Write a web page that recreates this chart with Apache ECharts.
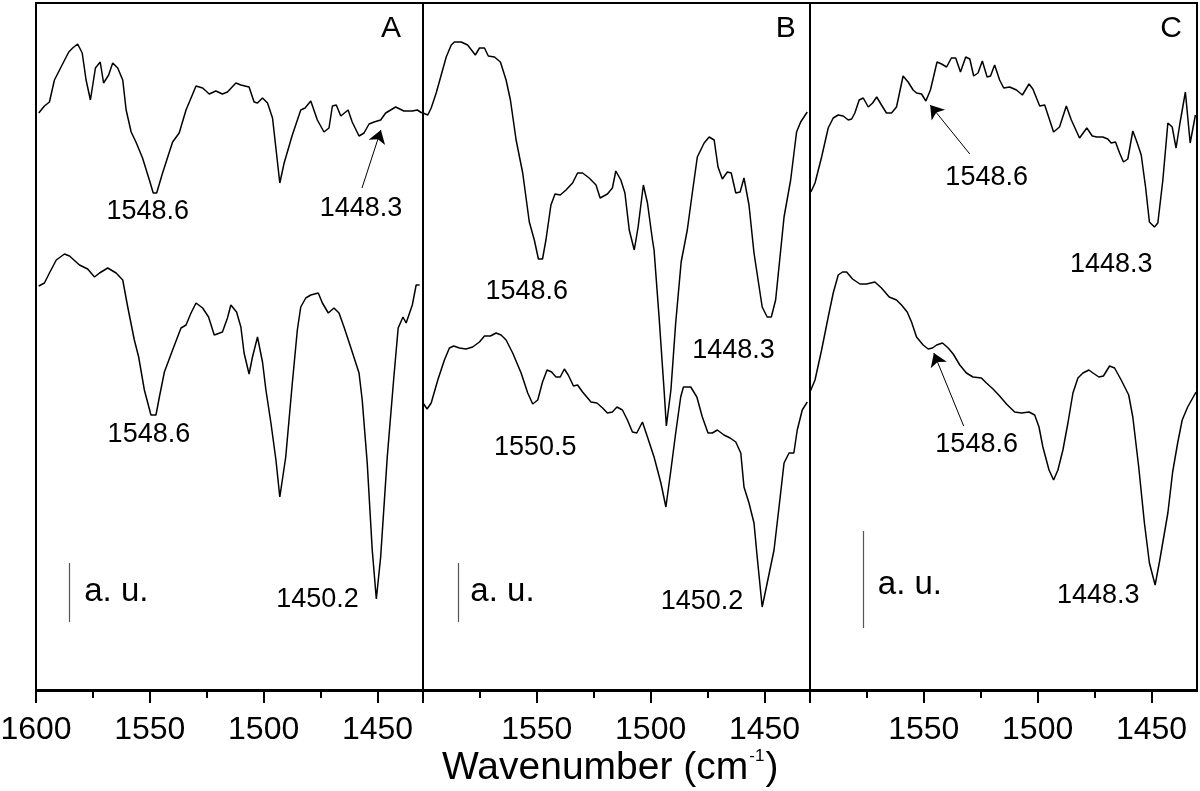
<!DOCTYPE html>
<html>
<head>
<meta charset="utf-8">
<script src="https://cdn.jsdelivr.net/npm/echarts@6/dist/echarts.min.js"></script>
<style>
html,body{margin:0;padding:0;background:#fff;}
#chart{width:1200px;height:791px;}
</style>
</head>
<body>
<div id="chart"></div>
<script>
// ---- data: [wavenumber (cm-1), intensity (a.u., offset)] ----
const specA_top = [[1598.8,577],[1596.3,584],[1594.1,588],[1591.9,610],[1589.0,623],[1585.6,638],[1583.9,642],[1581.7,646],[1579.7,637],[1578.0,610],[1576.1,590],[1573.9,622],[1571.8,628],[1570.3,607],[1568.1,615],[1566.3,627],[1564.1,622],[1561.9,610],[1560.4,580],[1558.2,558],[1556.1,548],[1553.2,532],[1550.2,510],[1548.5,497],[1547.0,497],[1544.4,517],[1540.0,548],[1537.1,557],[1534.1,580],[1529.7,604],[1526.8,602],[1523.9,596],[1521.0,599],[1518.1,596],[1515.9,598],[1512.2,607],[1510.0,605],[1506.4,603],[1504.2,588],[1502.7,587],[1500.5,592],[1498.3,587],[1496.1,572],[1492.9,507],[1491.0,527],[1487.4,555],[1483.7,580],[1481.8,582],[1479.3,589],[1476.4,570],[1473.5,558],[1471.3,562],[1469.8,584],[1468.1,585],[1466.1,574],[1462.9,580],[1461.1,568],[1458.1,554],[1455.9,557],[1453.7,566],[1451.5,568],[1448.6,570],[1446.4,577],[1442.0,583],[1438.4,579],[1434.7,579],[1432.5,580],[1430.5,577]];
const specA_bot = [[1598.8,404],[1596.3,407],[1594.1,417],[1591.1,430],[1587.5,436],[1585.3,434],[1580.9,425],[1577.3,421],[1574.3,413],[1572.1,417],[1568.5,422],[1564.8,417],[1561.9,410],[1559.7,383],[1556.8,350],[1554.9,333],[1552.4,300],[1549.5,275],[1547.3,275],[1545.8,293],[1543.6,318],[1540.0,340],[1536.3,362],[1534.1,365],[1531.9,377],[1529.7,387],[1526.8,382],[1524.2,373],[1521.7,355],[1518.1,358],[1515.9,372],[1514.4,385],[1511.9,378],[1510.0,363],[1508.6,337],[1506.4,316],[1504.9,333],[1502.7,353],[1500.5,328],[1499.0,300],[1496.8,267],[1494.6,230],[1492.9,193],[1490.3,233],[1487.4,307],[1485.2,360],[1483.7,383],[1481.5,392],[1479.3,395],[1476.0,397],[1474.2,387],[1471.6,377],[1469.1,382],[1466.9,377],[1464.7,363],[1461.8,343],[1458.1,317],[1456.7,290],[1454.5,227],[1452.3,140],[1450.5,91],[1448.6,133],[1445.7,233],[1442.8,313],[1440.9,362],[1438.8,373],[1437.4,367],[1434.7,385],[1433.0,405],[1431.5,405]];
const specB_top = [[1600.0,577],[1597.9,575],[1596.4,582],[1594.2,597],[1592.0,615],[1589.8,633],[1587.6,645],[1586.2,648],[1583.2,648],[1580.4,645],[1577.0,635],[1575.2,642],[1573.0,642],[1571.3,634],[1568.6,633],[1566.0,628],[1563.5,610],[1561.6,590],[1559.1,550],[1556.2,517],[1553.3,468],[1551.1,450],[1549.3,431],[1547.5,431],[1546.0,450],[1543.8,485],[1542.0,496],[1539.7,495],[1537.2,500],[1534.3,507],[1532.1,517],[1529.9,517],[1527.0,512],[1524.0,505],[1522.2,492],[1519.0,496],[1516.8,502],[1515.3,519],[1513.1,510],[1511.3,497],[1509.4,460],[1507.2,440],[1505.5,463],[1503.2,505],[1501.4,487],[1499.2,450],[1498.5,440],[1496.3,373],[1494.1,300],[1493.1,264],[1491.1,300],[1489.0,367],[1486.6,428],[1483.9,460],[1481.7,497],[1479.5,533],[1476.5,547],[1474.3,553],[1472.1,550],[1470.4,523],[1468.5,511],[1466.3,518],[1464.6,517],[1462.6,497],[1460.7,498],[1459.0,512],[1456.8,485],[1454.6,437],[1451.0,383],[1448.8,373],[1447.0,373],[1445.1,390],[1441.4,473],[1438.5,510],[1435.9,558],[1434.1,568],[1431.2,578]];
const specB_bot = [[1600.0,287],[1598.2,281],[1596.4,287],[1593.5,310],[1590.6,330],[1588.4,342],[1586.5,344],[1584.0,342],[1581.1,341],[1578.2,343],[1575.2,348],[1573.0,354],[1570.4,354],[1567.9,357],[1565.7,355],[1563.5,350],[1560.6,337],[1556.9,317],[1554.0,297],[1551.8,286],[1549.6,290],[1547.5,308],[1545.5,320],[1543.5,318],[1541.6,313],[1539.7,313],[1537.9,321],[1536.2,315],[1533.9,304],[1532.1,305],[1529.9,298],[1526.2,288],[1523.6,287],[1521.1,282],[1519.0,277],[1516.8,278],[1514.8,283],[1512.4,280],[1510.2,270],[1508.0,258],[1506.1,257],[1503.6,268],[1501.4,253],[1498.5,233],[1495.5,207],[1493.3,183],[1491.1,220],[1489.0,257],[1486.8,293],[1485.6,303],[1482.4,303],[1479.7,293],[1477.3,273],[1474.8,257],[1472.9,257],[1470.7,260],[1467.8,255],[1465.1,252],[1462.6,248],[1460.4,237],[1459.0,203],[1456.8,187],[1454.6,167],[1453.2,133],[1451.0,83],[1448.8,107],[1445.8,140],[1443.6,183],[1441.4,227],[1439.2,237],[1437.1,237],[1435.6,260],[1433.4,280],[1431.2,288]];
const specC_top = [[1599.6,498],[1597.8,507],[1594.9,533],[1592.0,562],[1589.8,572],[1587.6,575],[1585.4,574],[1583.2,570],[1581.7,571],[1580.3,577],[1578.4,590],[1576.6,592],[1574.4,583],[1572.5,587],[1570.7,593],[1568.6,585],[1566.4,577],[1564.2,577],[1562.0,583],[1559.1,614],[1556.9,608],[1554.7,600],[1553.2,597],[1551.0,596],[1549.1,589],[1547.1,600],[1544.2,628],[1542.2,626],[1540.0,623],[1537.9,632],[1536.0,632],[1533.9,618],[1531.6,633],[1529.8,631],[1528.1,614],[1526.2,617],[1524.3,629],[1522.2,613],[1520.7,614],[1518.9,625],[1516.7,610],[1514.9,602],[1512.3,603],[1509.3,600],[1506.7,595],[1503.8,606],[1502.1,601],[1499.1,584],[1496.9,585],[1493.0,558],[1490.4,563],[1487.4,584],[1485.2,570],[1481.6,552],[1478.4,562],[1476.0,554],[1474.0,553],[1471.4,553],[1469.2,551],[1467.7,547],[1465.8,548],[1464.0,537],[1462.3,528],[1460.4,531],[1458.2,559],[1456.4,548],[1454.5,535],[1452.6,503],[1450.9,468],[1448.7,463],[1447.2,467],[1445.0,510],[1442.8,567],[1440.9,563],[1439.2,542],[1437.4,568],[1435.1,598],[1433.0,547],[1430.7,575]];
const specC_bot = [[1600.0,298],[1597.8,310],[1594.9,340],[1592.0,373],[1589.8,397],[1587.6,415],[1585.7,418],[1583.9,418],[1581.3,411],[1578.1,406],[1575.1,406],[1571.5,408],[1568.6,402],[1565.2,393],[1562.0,390],[1559.8,385],[1557.3,378],[1555.4,368],[1553.2,353],[1550.3,345],[1548.1,341],[1546.2,342],[1544.4,345],[1541.8,347],[1539.3,342],[1537.1,336],[1534.2,325],[1531.3,317],[1528.4,313],[1524.7,312],[1522.5,307],[1519.6,301],[1516.7,294],[1513.7,286],[1510.1,278],[1507.1,277],[1503.8,278],[1501.3,275],[1499.4,263],[1497.7,243],[1495.0,220],[1493.0,210],[1491.1,220],[1488.9,240],[1486.7,267],[1484.5,297],[1482.3,312],[1480.1,317],[1477.5,320],[1475.7,317],[1473.1,313],[1471.1,314],[1468.4,324],[1466.2,322],[1463.3,310],[1460.0,295],[1458.2,273],[1455.6,223],[1453.1,167],[1450.9,127],[1448.4,105],[1446.5,128],[1442.8,177],[1440.7,218],[1438.5,247],[1436.5,270],[1434.1,283],[1430.4,298]];

// tick values
const majorTicks = [1450, 1500, 1550, 1600];
const minorTicks = [1475, 1525, 1575];
const labelTicksA = [1450, 1500, 1550, 1600];
const labelTicksBC = [1450, 1500, 1550];

// annotations: [wavenumber, intensity, text]
const peakLabelsA = [[1550.9,478,'1548.6'],[1457.2,481,'1448.3'],[1550.4,255,'1548.6'],[1476.3,90,'1450.2']];
const peakLabelsB = [[1554.4,398,'1548.6'],[1463.6,339,'1448.3'],[1550.7,242,'1550.5'],[1477.4,88,'1450.2']];
const peakLabelsC = [[1522.4,512,'1548.6'],[1467.7,425,'1448.3'],[1526.8,245,'1548.6'],[1473.4,94,'1448.3']];
const unitLabels = [[1564.7,98,'a. u.'],[1565.1,98,'a. u.'],[1556.1,105,'a. u.']];
const panelLetters = [[1444.1,661,'A'],[1440.7,661,'B'],[1441.4,661,'C']];
// scale bars: [wavenumber, from, to]
const scaleBars = [[1585.3,127,68],[1584.7,127,68],[1576.6,159,62]];
// arrows: [[fromWn, fromVal],[toWn, toVal]]
const arrowsA = [[[1456.8,502],[1448.5,560]]];
const arrowsB = [];
const arrowsC = [[[1529.8,536],[1547.2,585]],[[1532.5,264],[1545.6,337]]];

const FONT = "'Liberation Sans', Arial, Helvetica, sans-serif";
const lefts = [36, 423, 810];
const spectra = [[specA_top, specA_bot],[specB_top, specB_bot],[specC_top, specC_bot]];
const peakLabels = [peakLabelsA, peakLabelsB, peakLabelsC];
const arrows = [arrowsA, arrowsB, arrowsC];

const grids = [], xAxes = [], yAxes = [], series = [];
for (let i = 0; i < 3; i++) {
  grids.push({left: lefts[i], top: 3, width: 387, height: 688, show: true,
    borderColor: '#000', borderWidth: 2, backgroundColor: 'transparent',
    containLabel: false, outerBoundsMode: 'none'});
  yAxes.push({type: 'value', gridIndex: i, min: -1, max: 687, show: false});
}
for (let i = 0; i < 3; i++) {
  xAxes.push({type: 'value', gridIndex: i, min: 1430, max: 1600, inverse: true, position: 'bottom',
    axisLine: {show: true, lineStyle: {color: '#000', width: 2}},
    axisTick: {show: true, length: 13, lineStyle: {color: '#000', width: 2}, customValues: majorTicks},
    axisLabel: {show: true, customValues: i === 0 ? labelTicksA : labelTicksBC, fontSize: 32,
      color: '#000', fontFamily: FONT, margin: 23, showMinLabel: true, showMaxLabel: true,
      hideOverlap: false, formatter: v => String(v)},
    splitLine: {show: false}});
}
for (let i = 0; i < 3; i++) {
  xAxes.push({type: 'value', gridIndex: i, min: 1430, max: 1600, inverse: true, position: 'bottom',
    axisLine: {show: false},
    axisTick: {show: true, length: 7, lineStyle: {color: '#000', width: 2}, customValues: minorTicks},
    axisLabel: {show: false}, splitLine: {show: false}});
}

for (let i = 0; i < 3; i++) {
  const ml = [];
  arrows[i].forEach(a => ml.push([
    {coord: a[0], symbol: 'none', lineStyle: {color: '#000', width: 1, type: 'solid'}},
    {coord: a[1], symbol: 'arrow', symbolSize: 13}]));
  const sb = scaleBars[i];
  ml.push([
    {coord: [sb[0], sb[1]], symbol: 'none', lineStyle: {color: '#555', width: 1.2, type: 'solid'}},
    {coord: [sb[0], sb[2]], symbol: 'none'}]);
  spectra[i].forEach((s, k) => {
    const ser = {type: 'line', xAxisIndex: i, yAxisIndex: i, data: s, showSymbol: false,
      symbol: 'none', lineStyle: {color: '#000', width: 1.5}, silent: true, animation: false, clip: true,
      z: 3};
    if (k === 0) {
      ser.markLine = {silent: true, animation: false, symbol: ['none', 'arrow'], symbolSize: 13,
        label: {show: false}, lineStyle: {color: '#000', width: 1, type: 'solid'},
        itemStyle: {color: '#000'}, data: ml};
    }
    series.push(ser);
  });
  const txt = [];
  peakLabels[i].forEach(p => txt.push({name: p[2], value: [p[0], p[1]], label: {fontSize: 27}}));
  txt.push({name: unitLabels[i][2], value: [unitLabels[i][0], unitLabels[i][1]], label: {fontSize: 33}});
  txt.push({name: panelLetters[i][2], value: [panelLetters[i][0], panelLetters[i][1]], label: {fontSize: 30}});
  series.push({type: 'scatter', xAxisIndex: i, yAxisIndex: i, data: txt, symbolSize: 0,
    silent: true, animation: false, z: 5,
    itemStyle: {opacity: 1, color: '#000'},
    label: {show: true, position: 'inside', formatter: '{b}', color: '#000', opacity: 1,
      fontFamily: FONT, fontWeight: 'normal', textBorderWidth: 0}});
}

const chart = echarts.init(document.getElementById('chart'), null, {renderer: 'canvas'});
chart.setOption({
  backgroundColor: '#fff',
  animation: false,
  title: {
    text: '{a|Wavenumber (cm}{s|-1}{a|)}',
    left: 437, top: 743,
    textStyle: {fontWeight: 'normal', rich: {
      a: {fontSize: 39, fontFamily: FONT, color: '#000', fontWeight: 'normal'},
      s: {fontSize: 17, fontFamily: FONT, color: '#000', fontWeight: 'normal',
          verticalAlign: 'top', padding: [0, 1, 24, 1]}
    }}
  },
  grid: grids, xAxis: xAxes, yAxis: yAxes, series: series
});
</script>
</body>
</html>
